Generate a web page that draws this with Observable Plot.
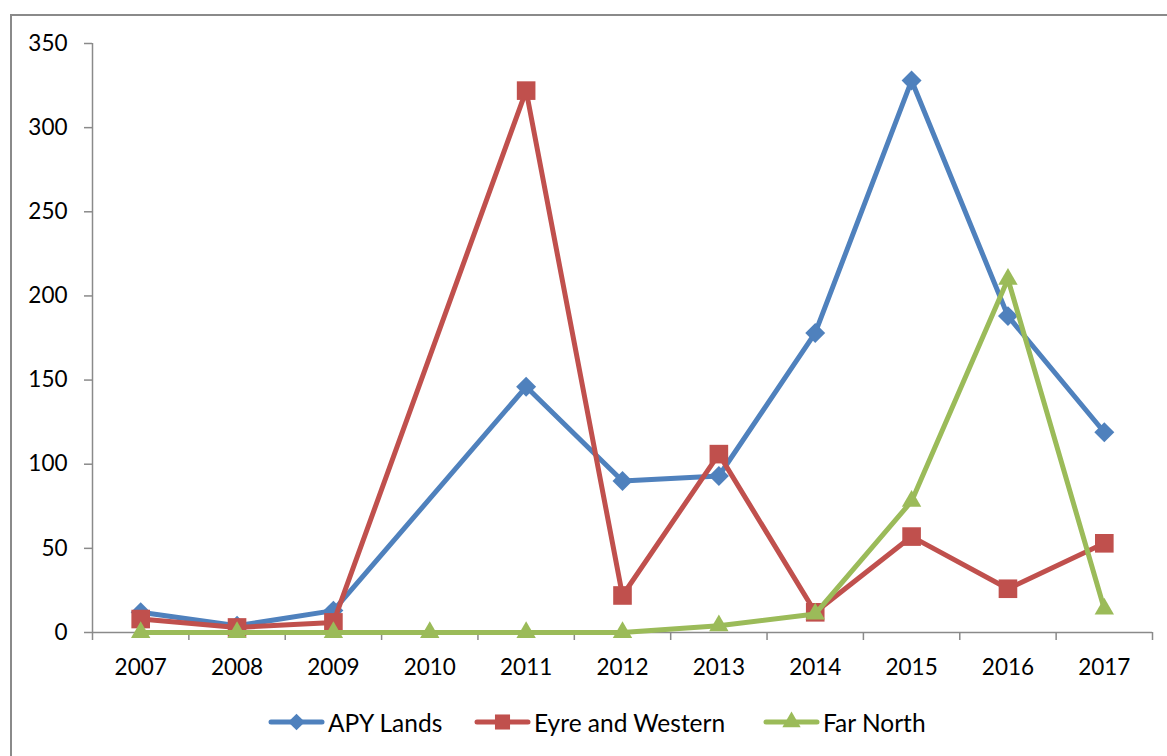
<!DOCTYPE html>
<html>
<head>
<meta charset="utf-8">
<script src="https://cdn.jsdelivr.net/npm/d3@7"></script>
<script src="https://cdn.jsdelivr.net/npm/@observablehq/plot@0.6"></script>
<style>
  html, body { margin: 0; padding: 0; background: #fff; overflow: hidden; width: 1167px; height: 756px; }
  #frame { position: absolute; left: 10px; top: 14px; width: 1300px; height: 900px; border-left: 2px solid #8a8a8a; border-top: 2px solid #8a8a8a; box-sizing: border-box; }
  #chart { position: absolute; left: 0; top: 0; }
  #legend { position: absolute; left: 0; top: 707px; width: 1167px; height: 30px; font-family: Lato, sans-serif; font-size: 24.5px; color: #000; }
  .item { position: absolute; top: 0; height: 30px; display: flex; align-items: center; white-space: nowrap; }
  .item svg { display: block; margin-right: 3px; }
</style>
</head>
<body>
<div id="frame"></div>
<div id="chart"></div>
<div id="legend"></div>
<script>
const years = [2007, 2008, 2009, 2010, 2011, 2012, 2013, 2014, 2015, 2016, 2017];
const apyLands = [12, 4, 13, null, 146, 90, 93, 178, 328, 188, 119];
const eyreWestern = [8, 3, 6, null, 322, 22, 106, 12, 57, 26, 53];
const farNorth = [0, 0, 0, 0, 0, 0, 4, 11, 78, 210, 14];
const yTicks = [0, 50, 100, 150, 200, 250, 300, 350];
const seriesNames = ["APY Lands", "Eyre and Western", "Far North"];
const seriesColors = ["#4F81BD", "#C0504D", "#9BBB59"];

const seriesValues = [apyLands, eyreWestern, farNorth];
const tables = seriesValues.map((vals, i) =>
  years.map((y, j) => ({ year: y, value: vals[j], series: seriesNames[i] })).filter(d => d.value != null)
);
const boundaries = d3.range(years.length + 1).map(i => years[0] - 0.5 + i);
const gray = "#8a8a8a";
const symbols = ["diamond2", "square", "triangle"];
const radii = [9, 10.5, 7.2];

const marks = [
  Plot.ruleX([boundaries[0]], { y1: 0, y2: 350, stroke: gray, strokeWidth: 1.5 }),
  Plot.ruleY([0], { x1: boundaries[0], x2: boundaries[boundaries.length - 1], stroke: gray, strokeWidth: 1.5 }),
  Plot.axisY({ ticks: yTicks, tickSize: 8, tickPadding: 17, stroke: gray, strokeWidth: 1.5, fontSize: 22.5, fill: "#000", label: null, tickFormat: d => String(d) }),
  Plot.axisX({ ticks: boundaries, tickSize: 8, stroke: gray, strokeWidth: 1.5, tickFormat: () => "", label: null }),
  Plot.axisX({ ticks: years, tickSize: 0, tickPadding: 27, fontSize: 22.5, fill: "#000", label: null, tickFormat: d => String(d) })
];
tables.forEach((t, i) => {
  marks.push(Plot.line(t, { x: "year", y: "value", stroke: seriesColors[i], strokeWidth: 5, strokeLinejoin: "round", strokeLinecap: "round" }));
  marks.push(Plot.dot(t, { x: "year", y: "value", symbol: () => symbols[i], r: radii[i], fill: seriesColors[i], stroke: "none" }));
});

const chart = Plot.plot({
  width: 1167,
  height: 690,
  marginLeft: 92,
  marginRight: 15,
  marginTop: 43,
  marginBottom: 58,
  style: { fontFamily: "Lato, sans-serif", background: "transparent", overflow: "visible" },
  x: { type: "linear", domain: [boundaries[0], boundaries[boundaries.length - 1]], axis: null },
  y: { domain: [0, 350], axis: null },
  symbol: { type: "identity" },
  marks
});
document.getElementById("chart").appendChild(chart);

// legend
const legendLeft = [268, 474, 763];
const legend = d3.select("#legend");
seriesNames.forEach((name, i) => {
  const item = legend.append("div").attr("class", "item").style("left", legendLeft[i] + "px");
  const svg = item.append("svg").attr("width", 57).attr("height", 24);
  svg.append("line").attr("x1", 3).attr("x2", 54).attr("y1", 12).attr("y2", 12)
    .attr("stroke", seriesColors[i]).attr("stroke-width", 5).attr("stroke-linecap", "round");
  const sym = [d3.symbolDiamond2, d3.symbolSquare, d3.symbolTriangle][i];
  const r = [7.5, 8.5, 6.8][i];
  svg.append("path").attr("transform", "translate(28.5,12)").attr("d", d3.symbol(sym, r * r * Math.PI)()).attr("fill", seriesColors[i]);
  item.append("span").text(name);
});
</script>
</body>
</html>
